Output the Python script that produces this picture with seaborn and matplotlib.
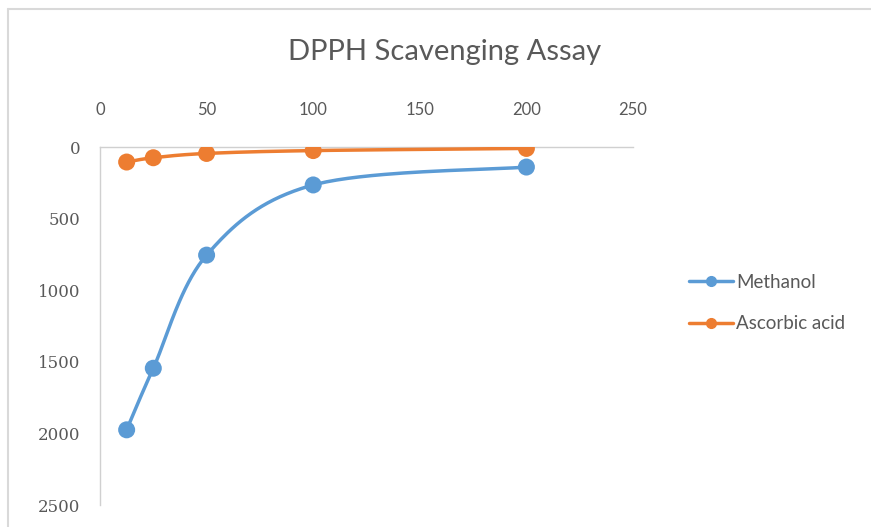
import numpy as np
import pandas as pd
import matplotlib
matplotlib.use("Agg")
import matplotlib.pyplot as plt
import seaborn as sns
from matplotlib.lines import Line2D

# ---- data ----
concentrations = [12.5, 25, 50, 100, 200]
methanol = [1975, 1545, 755, 265, 140]
ascorbic_acid = [105, 75, 45, 25, 10]
series_names = ["Methanol", "Ascorbic acid"]
x_ticks = [0, 50, 100, 150, 200, 250]
y_ticks = [0, 500, 1000, 1500, 2000, 2500]
title = "DPPH Scavenging Assay"

colors = {"Methanol": "#5B9BD5", "Ascorbic acid": "#ED7D31"}


def smooth(xs, ys, n=40):
    """Excel-like smoothed line (Catmull-Rom Bezier) through the points."""
    xs = np.asarray(xs, float)
    ys = np.asarray(ys, float)
    pts = np.column_stack([xs, ys])
    out = []
    for i in range(len(pts) - 1):
        p0 = pts[i - 1] if i > 0 else pts[i]
        p1 = pts[i]
        p2 = pts[i + 1]
        p3 = pts[i + 2] if i + 2 < len(pts) else pts[i + 1]
        c1 = p1 + (p2 - p0) / 6.0
        c2 = p2 - (p3 - p1) / 6.0
        t = np.linspace(0, 1, n)[:, None]
        seg = ((1 - t) ** 3) * p1 + 3 * ((1 - t) ** 2) * t * c1 + 3 * (1 - t) * t ** 2 * c2 + t ** 3 * p2
        out.append(seg if i == 0 else seg[1:])
    s = np.vstack(out)
    return s[:, 0], s[:, 1]


sns.set_theme(style="white")
plt.rcParams["font.family"] = ["Lato", "DejaVu Sans"]

fig = plt.figure(figsize=(8.71, 5.27), dpi=100)
ax = fig.add_axes([100 / 871, 1 - 505 / 527, (633 - 100) / 871, (505 - 147) / 527])

points = pd.DataFrame({
    "x": concentrations * 2,
    "y": methanol + ascorbic_acid,
    "series": [series_names[0]] * len(concentrations) + [series_names[1]] * len(concentrations),
})

curves = []
for name, vals in zip(series_names, [methanol, ascorbic_acid]):
    sx, sy = smooth(concentrations, vals)
    curves.append(pd.DataFrame({"x": sx, "y": sy, "series": name}))
curves = pd.concat(curves, ignore_index=True)

sns.lineplot(data=curves, x="x", y="y", hue="series", palette=colors, sort=False,
             estimator=None, linewidth=2.5, legend=False, ax=ax, zorder=3)
sns.scatterplot(data=points, x="x", y="y", hue="series", palette=colors, s=150,
                edgecolor="none", legend=False, ax=ax, zorder=4)

ax.set_xlim(0, 250)
ax.set_ylim(2500, 0)
ax.xaxis.tick_top()
ax.set_xticks(x_ticks)
ax.set_yticks(y_ticks)
ax.set_xlabel("")
ax.set_ylabel("")
ax.tick_params(axis="both", length=0, labelsize=12, labelcolor="#595959")
ax.tick_params(axis="x", pad=21)
ax.tick_params(axis="y", pad=14)
for lab in ax.get_xticklabels() + ax.get_yticklabels():
    lab.set_fontfamily(["DejaVu Serif"])
for side in ["right", "bottom"]:
    ax.spines[side].set_visible(False)
for side in ["top", "left"]:
    ax.spines[side].set_color("#D0D0D0")
    ax.spines[side].set_linewidth(1.0)
ax.spines["top"].set_position(("data", 0))

fig.text(445 / 871, 1 - 52 / 527, title, ha="center", va="center",
         fontsize=21, color="#595959")

handles = [Line2D([0], [0], color=colors[n], lw=2.5, marker="o", markersize=7) for n in series_names]
fig.legend(handles, series_names, loc="center left", bbox_to_anchor=(680 / 871, 1 - 303 / 527),
           frameon=False, fontsize=13.5, labelcolor="#595959", handlelength=2.3,
           handletextpad=0.2, labelspacing=1.3, borderpad=0)

# outer chart-area border
fig.add_artist(Line2D([8 / 871, 1], [1 - 9 / 527, 1 - 9 / 527], color="#D9D9D9", lw=1.5))
fig.add_artist(Line2D([8 / 871, 8 / 871], [0, 1 - 9 / 527], color="#D9D9D9", lw=1.5))

fig.savefig("out.png", dpi=100)
